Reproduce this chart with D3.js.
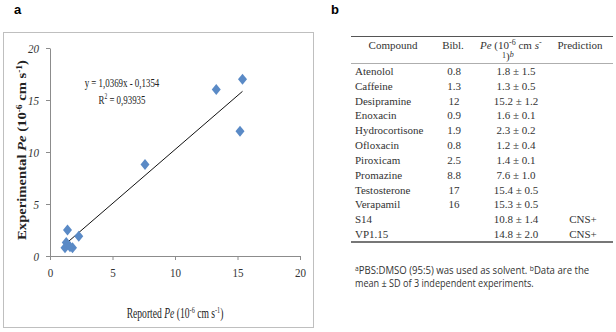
<!DOCTYPE html>
<html><head><meta charset="utf-8">
<script src="https://cdn.jsdelivr.net/npm/d3@7"></script>
<style>body{margin:0;background:#fff}svg{display:block}</style>
</head><body>
<svg id="c" width="616" height="332"></svg>
<script>
// ---- data ----
const reported = [1.3, 1.2, 1.8, 1.6, 2.3, 1.4, 7.6, 13.3, 15.4, 15.2];
const experimental = [1.3, 0.8, 0.8, 0.9, 1.9, 2.5, 8.8, 16.0, 17.0, 12.0];
const slope = 1.0369, intercept = -0.1354, r2 = "0,93935";
const tickValues = [0, 5, 10, 15, 20];

const compounds = ["Atenolol","Caffeine","Desipramine","Enoxacin","Hydrocortisone","Ofloxacin","Piroxicam","Promazine","Testosterone","Verapamil","S14","VP1.15"];
const bibl = ["0.8","1.3","12","0.9","1.9","0.8","2.5","8.8","17","16","",""];
const peMean = ["1.8","1.3","15.2","1.6","2.3","1.2","1.4","7.6","15.4","15.3","10.8","14.8"];
const peSD = ["1.5","0.5","1.2","0.1","0.2","0.4","0.1","1.0","0.5","0.5","1.4","2.0"];
const prediction = ["","","","","","","","","","","CNS+","CNS+"];

const svg = d3.select("#c");
svg.append("rect").attr("width",616).attr("height",332).attr("fill","#fff");

const sans = "'Liberation Sans', Arial, sans-serif";
const serif = "'Liberation Serif', 'Times New Roman', serif";

// squeeze a text horizontally to a target width (around its anchor)
function fit(sel, w, pre){
  const bw = sel.node().getBBox().width;
  const s = w / bw;
  if (pre) { sel.attr("transform", `${pre} scale(${s},1)`); }
  else {
    const ax = +sel.attr("x");
    sel.attr("transform", `translate(${ax},0) scale(${s},1) translate(${-ax},0)`);
  }
}

// panel labels
svg.append("text").attr("x",14).attr("y",14).attr("font-family",sans).attr("font-weight","bold").attr("font-size",13).text("a");
svg.append("text").attr("x",331).attr("y",14).attr("font-family",sans).attr("font-weight","bold").attr("font-size",13).text("b");

// ---- chart a ----
svg.append("rect").attr("x",3.5).attr("y",32.5).attr("width",310).attr("height",295)
  .attr("fill","none").attr("stroke","#bfbfbf");

const x = d3.scaleLinear().domain([0,20]).range([50,300]);
const y = d3.scaleLinear().domain([0,20]).range([256,48]);

const xAxis = svg.append("g").attr("transform","translate(0,256)")
  .call(d3.axisBottom(x).tickValues(tickValues).tickSize(4).tickSizeOuter(0).tickPadding(8));
const yAxis = svg.append("g").attr("transform","translate(50,0)")
  .call(d3.axisLeft(y).tickValues(tickValues).tickSize(4).tickSizeOuter(0).tickPadding(7));
[xAxis,yAxis].forEach(a=>{
  a.selectAll("path,line").attr("stroke","#8c8c8c");
  a.selectAll("text").attr("font-family",serif).attr("font-size",13).attr("fill","#333");
});
yAxis.selectAll("text").attr("font-style","italic");
xAxis.selectAll(".tick text").each(function(){ const t=d3.select(this); t.attr("x",0); fit(t, this.getBBox().width*0.85); });
yAxis.selectAll(".tick text").each(function(){ const t=d3.select(this); fit(t, this.getBBox().width*0.85); });

// trend line
const xr = d3.extent(reported);
svg.append("line")
  .attr("x1",x(xr[0])).attr("y1",y(slope*xr[0]+intercept))
  .attr("x2",x(xr[1])).attr("y2",y(slope*xr[1]+intercept))
  .attr("stroke","#111").attr("stroke-width",1);

// points
const pts = reported.map((d,i)=>[d,experimental[i]]);
svg.append("g").selectAll("path").data(pts).join("path")
  .attr("d",d=>{const cx=x(d[0]),cy=y(d[1]);return `M${cx},${cy-5.5}L${cx+4.5},${cy}L${cx},${cy+5.5}L${cx-4.5},${cy}Z`;})
  .attr("fill","#5a8ac6");

// equation
const eq = svg.append("text").attr("x",122).attr("y",87).attr("text-anchor","middle")
  .attr("font-family",serif).attr("font-size",13).attr("fill","#222")
  .text(`y = ${String(slope).replace(".",",")}x - ${String(-intercept).replace(".",",")}`);
fit(eq, 75);
const r2t = svg.append("text").attr("x",122).attr("y",104).attr("text-anchor","middle")
  .attr("font-family",serif).attr("font-size",13).attr("fill","#222");
r2t.append("tspan").text("R");
r2t.append("tspan").attr("dy",-5).attr("font-size",8).text("2");
r2t.append("tspan").attr("dy",5).text(" = " + r2);
fit(r2t, 47);

// x title
const xt = svg.append("text").attr("x",175).attr("y",318).attr("text-anchor","middle")
  .attr("font-family",serif).attr("font-size",14).attr("fill","#222");
xt.append("tspan").text("Reported ");
xt.append("tspan").attr("font-style","italic").text("Pe");
xt.append("tspan").text(" (10");
xt.append("tspan").attr("dy",-5).attr("font-size",9).text("-6");
xt.append("tspan").attr("dy",5).text(" cm s");
xt.append("tspan").attr("dy",-5).attr("font-size",9).text("-1");
xt.append("tspan").attr("dy",5).text(")");
fit(xt, 97);

// y title
const yt = svg.append("text").attr("x",0).attr("y",0).attr("text-anchor","middle")
  .attr("font-family",serif).attr("font-size",12.5).attr("font-weight","bold").attr("fill","#222");
yt.append("tspan").text("Experimental ");
yt.append("tspan").attr("font-style","italic").text("Pe");
yt.append("tspan").text(" (10");
yt.append("tspan").attr("dy",-4).attr("font-size",8).text("-6");
yt.append("tspan").attr("dy",4).text(" cm s");
yt.append("tspan").attr("dy",-4).attr("font-size",8).text("-1");
yt.append("tspan").attr("dy",4).text(")");
fit(yt, 180, "translate(26,150) rotate(-90)");

// ---- table b ----
const row = d3.scaleLinear().domain([0,11]).range([75,238]);
svg.append("line").attr("x1",351).attr("x2",613).attr("y1",36.5).attr("y2",36.5).attr("stroke","#555").attr("stroke-width",1);
svg.append("line").attr("x1",351).attr("x2",613).attr("y1",63.5).attr("y2",63.5).attr("stroke","#999").attr("stroke-width",0.8);
svg.append("line").attr("x1",351).attr("x2",613).attr("y1",242).attr("y2",242).attr("stroke","#777").attr("stroke-width",2);

const hd = svg.append("g").attr("font-family",serif).attr("font-size",11).attr("fill","#333");
hd.append("text").attr("x",393).attr("y",49).attr("text-anchor","middle").text("Compound");
hd.append("text").attr("x",453).attr("y",49).attr("text-anchor","middle").text("Bibl.");
const ph = hd.append("text").attr("x",480).attr("y",49);
ph.append("tspan").attr("font-style","italic").text("Pe");
ph.append("tspan").text(" (10");
ph.append("tspan").attr("dy",-4).attr("font-size",8).text("-6");
ph.append("tspan").attr("dy",4).text(" cm ");
ph.append("tspan").attr("font-style","italic").text("s");
ph.append("tspan").attr("dy",-4).attr("font-size",8).text("-");
const ph2 = hd.append("text").attr("x",502).attr("y",60);
ph2.append("tspan").attr("font-size",8).attr("dy",-2).text("1");
ph2.append("tspan").attr("dy",2).text(")");
ph2.append("tspan").attr("font-style","italic").attr("font-size",8).attr("dy",-3).text("b");
hd.append("text").attr("x",580).attr("y",49).attr("text-anchor","middle").text("Prediction");

const body = svg.append("g").attr("font-family",serif).attr("font-size",11).attr("fill","#333");
body.selectAll("text.c").data(compounds).join("text").attr("class","c").attr("x",355).attr("y",(d,i)=>row(i)).text(d=>d);
body.selectAll("text.b").data(bibl).join("text").attr("class","b").attr("x",454).attr("y",(d,i)=>row(i)).attr("text-anchor","middle").text(d=>d);
body.selectAll("text.p").data(peMean).join("text").attr("class","p").attr("x",516).attr("y",(d,i)=>row(i)).attr("text-anchor","middle").text((d,i)=>`${d} ± ${peSD[i]}`);
body.selectAll("text.r").data(prediction).join("text").attr("class","r").attr("x",583).attr("y",(d,i)=>row(i)).attr("text-anchor","middle").text(d=>d);

// footnote
const fn = svg.append("g").attr("font-family","'Open Sans', 'Liberation Sans', sans-serif").attr("font-size",10).attr("fill","#333");
const f1 = fn.append("text").attr("x",355).attr("y",274);
f1.append("tspan").attr("font-size",7).attr("dy",-3).text("a");
f1.append("tspan").attr("dy",3).text("PBS:DMSO (95:5) was used as solvent. ");
f1.append("tspan").attr("font-size",7).attr("dy",-3).text("b");
f1.append("tspan").attr("dy",3).text("Data are the");
fit(f1, 235);
const f2 = fn.append("text").attr("x",355).attr("y",287).text("mean ± SD of 3 independent experiments.");
fit(f2, 179);
</script>
</body></html>
